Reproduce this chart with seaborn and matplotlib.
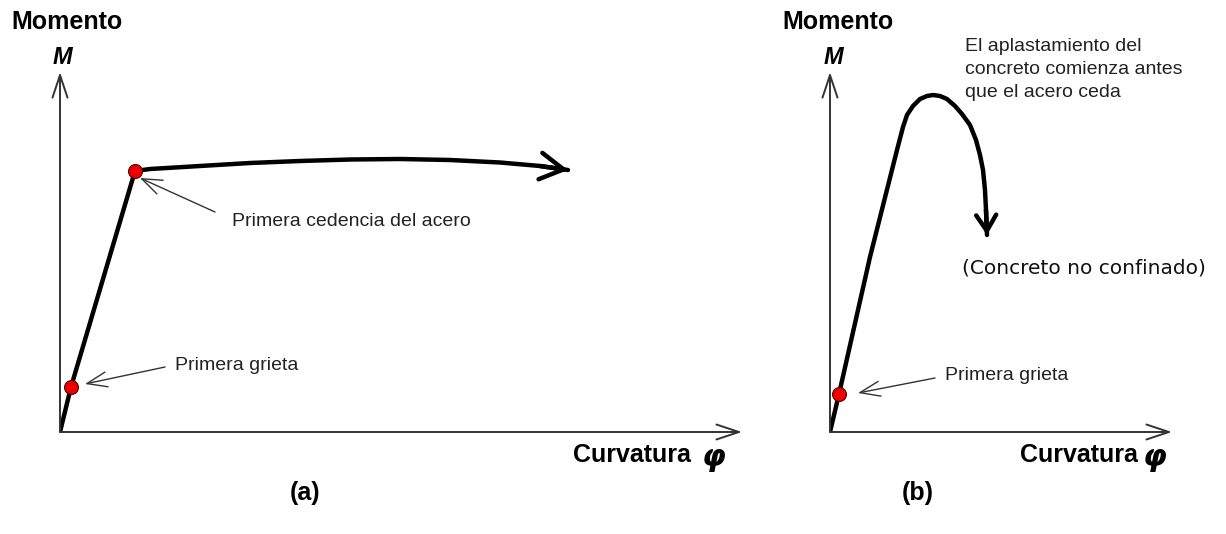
import matplotlib
matplotlib.use("Agg")
import matplotlib.pyplot as plt
import seaborn as sns
import pandas as pd

sns.set_theme(style="white")
plt.rcParams['font.family'] = ['Liberation Sans', 'DejaVu Sans']

# ---- data (arbitrary schematic units: curvature phi, moment M) ----
# Panel (a): under-reinforced section
a_phi = [0, 11, 75, 90, 140, 190, 240, 290, 340, 390, 440, 480, 508]
a_m = [0, 45, 261, 263, 266, 269, 271, 272.5, 273, 272, 269.5, 266, 262]
a_crack = (11, 45)
a_yield = (75, 261)

# Panel (b): unconfined concrete, crushing before yield
b_phi = [0, 9, 40, 67, 73, 77, 83, 90, 97, 103, 110, 117, 125, 132, 140, 146, 150,
         153, 155, 156, 157]
b_m = [0, 38, 175, 282, 305, 317, 326, 333, 336, 337, 336, 333, 326, 318, 307, 292,
       277, 262, 242, 222, 197]
b_crack = (9, 38)

axis_len_a = (682, 360)
axis_len_b = (342, 360)

W, H = 1226, 534
fig = plt.figure(figsize=(W / 100, H / 100), dpi=100)


def make_ax(left_px, width_units, height_units=380):
    ax = fig.add_axes([left_px / W, (H - 432) / H, width_units / W, height_units / H])
    ax.set_xlim(0, width_units)
    ax.set_ylim(0, height_units)
    ax.axis('off')
    return ax


def draw_axes(ax, xlen, ylen):
    kw = dict(arrowstyle='->,head_length=1.35,head_width=0.45', color='#333333', lw=1.4,
              shrinkA=0, shrinkB=0)
    ax.annotate('', xy=(xlen, 0), xytext=(0, 0), arrowprops=kw)
    ax.annotate('', xy=(0, ylen), xytext=(0, 0), arrowprops=kw)


def thin_arrow(ax, tip, tail):
    ax.annotate('', xy=tip, xytext=tail,
                arrowprops=dict(arrowstyle='->,head_length=1.2,head_width=0.45',
                                color='#333333', lw=1.0, shrinkA=0, shrinkB=0))


def curve(ax, xs, ys, hl, hw):
    df = pd.DataFrame({'phi': xs, 'M': ys})
    sns.lineplot(data=df, x='phi', y='M', sort=False, color='black', lw=3.2, ax=ax,
                 estimator=None)
    ax.annotate('', xy=(xs[-1], ys[-1]), xytext=(xs[-2], ys[-2]),
                arrowprops=dict(arrowstyle=f'->,head_length={hl},head_width={hw}',
                                color='black', lw=3.2, shrinkA=0, shrinkB=0))
    ax.set_xlabel('')
    ax.set_ylabel('')


def dot(ax, p):
    ax.plot([p[0]], [p[1]], 'o', color='#ee0000', mec='#550000', mew=0.8, ms=10, zorder=5)


# ---------- panel (a) ----------
axa = make_ax(60, 700)
draw_axes(axa, *axis_len_a)
curve(axa, a_phi, a_m, 1.4, 0.8)
dot(axa, a_crack)
dot(axa, a_yield)
thin_arrow(axa, (a_yield[0] + 5, a_yield[1] - 7), (155, 220))
axa.text(172, 210, 'Primera cedencia del acero', fontsize=14, va='center', ha='left',
         color='#222222')
thin_arrow(axa, (a_crack[0] + 14, a_crack[1] + 3), (105, 65))
axa.text(115, 67, 'Primera grieta', fontsize=14, va='center', ha='left', color='#222222')

# ---------- panel (b) ----------
axb = make_ax(830, 390)
axb.set_xlim(0, 390)
draw_axes(axb, *axis_len_b)
curve(axb, b_phi, b_m, 0.95, 0.6)
dot(axb, b_crack)
thin_arrow(axb, (b_crack[0] + 19, b_crack[1] + 1), (105, 54))
axb.text(115, 57, 'Primera grieta', fontsize=14, va='center', ha='left', color='#222222')
axb.text(135, 394, 'El aplastamiento del\nconcreto comienza antes\nque el acero ceda',
         fontsize=14, va='top', ha='left', color='#222222', linespacing=1.45)

fig.text(962 / W, 1 - 268 / H, '(Concreto no confinado)', fontsize=14.5, va='center',
         ha='left', color='#111111', family=['DejaVu Sans'])

# ---------- axis titles ----------
for x0 in (67, 838):
    fig.text(x0 / W, 1 - 22 / H, 'Momento', fontsize=18, fontweight='bold', ha='center',
             va='center', color='black')
    fig.text((x0 - 5) / W, 1 - 57 / H, 'M', fontsize=17, fontweight='bold', style='italic',
             ha='center', va='center', color='black')

for x0, x1 in ((573, 702), (1020, 1143)):
    fig.text(x0 / W, 1 - 455 / H, 'Curvatura', fontsize=18, fontweight='bold', ha='left',
             va='center', color='black')
    fig.text(x1 / W, 1 - 457 / H, 'φ', fontsize=22, fontweight='bold', style='italic',
             ha='left', va='center', color='black', family=['DejaVu Sans'])

fig.text(305 / W, 1 - 493 / H, '(a)', fontsize=18, fontweight='bold', ha='center',
         va='center', color='black')
fig.text(918 / W, 1 - 493 / H, '(b)', fontsize=18, fontweight='bold', ha='center',
         va='center', color='black')

fig.savefig('out.png', dpi=100, facecolor='white')
